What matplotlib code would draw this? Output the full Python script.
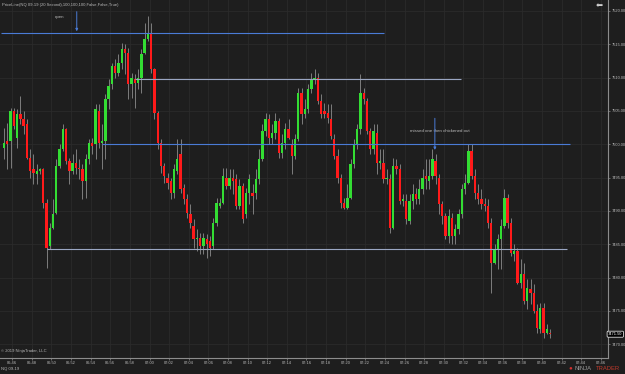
import matplotlib
matplotlib.use('Agg')
from matplotlib import pyplot as plt
import numpy as np

# NQ 09-19, 20 second bars, first bar closes at 06:45:10
start = '06:45:10'
opens = [7499.5, 7500.5, 7500.5, 7505.0, 7501.0, 7504.5, 7503.75, 7503.0, 7498.0, 7496.25,
         7495.5, 7496.0, 7496.25, 7491.25, 7484.75, 7487.5, 7489.75, 7496.75, 7499.25, 7502.25,
         7497.5, 7496.0, 7497.25, 7496.5, 7496.25, 7494.5, 7497.75, 7500.25, 7500.0, 7505.0,
         7500.25, 7500.5, 7506.75, 7509.0, 7511.75, 7510.75, 7512.25, 7514.25, 7513.75, 7509.0,
         7509.75, 7509.25, 7510.0, 7513.75, 7515.75, 7516.75, 7511.25, 7504.75, 7500.25, 7496.75,
         7495.0, 7494.5, 7492.75, 7496.0, 7498.5, 7493.5, 7491.75, 7489.5, 7487.75, 7485.75,
         7486.0, 7484.75, 7485.75, 7485.5, 7484.75, 7488.25, 7490.75, 7491.25, 7495.0, 7493.75,
         7495.0, 7494.75, 7490.75, 7493.75, 7489.5, 7492.75, 7492.75, 7492.75, 7494.75, 7497.75,
         7502.0, 7503.75, 7501.0, 7501.75, 7503.5, 7498.75, 7500.25, 7502.25, 7500.0, 7498.25,
         7500.75, 7507.75, 7504.5, 7505.25, 7508.25, 7509.75, 7510.0, 7506.5, 7505.0, 7504.75,
         7503.75, 7500.75, 7498.25, 7495.0, 7491.25, 7490.5, 7492.0, 7497.0, 7500.0, 7502.25,
         7507.75, 7506.5, 7502.0, 7499.25, 7501.75, 7497.25, 7497.25, 7494.75, 7494.75, 7487.5,
         7496.75, 7496.25, 7491.5, 7491.5, 7488.5, 7491.5, 7492.5, 7491.75, 7493.25, 7495.25,
         7494.5, 7495.25, 7497.5, 7495.0, 7491.0, 7489.25, 7486.25, 7489.0, 7486.25, 7487.25,
         7489.5, 7493.25, 7494.25, 7499.0, 7495.25, 7492.75, 7491.75, 7491.0, 7490.75, 7488.25,
         7482.25, 7484.25, 7485.75, 7487.75, 7492.0, 7488.25, 7483.5, 7484.0, 7479.25, 7480.5,
         7476.5, 7478.25, 7477.75, 7475.0, 7472.25, 7475.5, 7471.75, 7471.75]
highs = [7502.5, 7503.25, 7505.5, 7505.5, 7505.25, 7507.25, 7505.0, 7503.75, 7499.25, 7498.5,
         7497.0, 7496.5, 7496.5, 7491.75, 7488.25, 7491.75, 7497.75, 7500.0, 7503.0, 7502.5,
         7498.0, 7498.5, 7499.25, 7497.75, 7497.0, 7498.5, 7500.75, 7501.0, 7506.0, 7506.0,
         7503.0, 7507.5, 7509.75, 7512.25, 7512.75, 7513.5, 7515.25, 7515.0, 7514.5, 7510.75,
         7510.5, 7511.25, 7514.25, 7518.25, 7519.25, 7518.25, 7511.5, 7505.0, 7500.75, 7497.25,
         7495.75, 7495.0, 7497.0, 7500.75, 7500.75, 7494.0, 7492.5, 7491.0, 7488.75, 7487.25,
         7486.75, 7486.75, 7486.5, 7486.25, 7489.0, 7492.0, 7492.0, 7496.5, 7496.5, 7496.25,
         7496.25, 7495.5, 7494.75, 7494.25, 7493.5, 7495.5, 7494.0, 7496.25, 7499.25, 7503.0,
         7504.75, 7504.5, 7503.0, 7504.75, 7504.0, 7501.5, 7503.25, 7503.75, 7500.75, 7501.5,
         7508.5, 7508.5, 7506.75, 7509.0, 7510.75, 7511.25, 7510.75, 7507.5, 7506.25, 7506.0,
         7506.0, 7501.5, 7499.25, 7495.5, 7492.0, 7494.0, 7497.75, 7500.75, 7503.0, 7510.5,
         7508.5, 7507.0, 7502.5, 7503.0, 7503.0, 7499.25, 7499.25, 7496.25, 7495.5, 7498.0,
         7497.75, 7497.0, 7492.5, 7492.5, 7492.5, 7494.0, 7493.5, 7494.75, 7496.25, 7497.75,
         7497.75, 7499.25, 7498.5, 7495.5, 7491.5, 7489.75, 7490.25, 7489.75, 7488.0, 7490.25,
         7494.0, 7495.5, 7500.0, 7500.0, 7496.25, 7494.0, 7493.25, 7492.0, 7491.75, 7489.0,
         7485.0, 7486.5, 7488.75, 7493.25, 7492.5, 7489.0, 7485.0, 7484.5, 7482.75, 7482.25,
         7479.75, 7479.75, 7479.0, 7476.0, 7476.25, 7476.25, 7473.0, 7472.25]
lows = [7497.75, 7496.25, 7496.5, 7502.25, 7499.5, 7503.0, 7501.5, 7497.75, 7495.0, 7494.0,
        7494.0, 7495.5, 7490.5, 7481.5, 7484.25, 7487.25, 7489.5, 7496.5, 7499.0, 7497.0,
        7494.0, 7495.5, 7495.5, 7494.75, 7491.75, 7492.0, 7497.0, 7498.5, 7497.75, 7499.5,
        7496.25, 7497.75, 7505.25, 7508.25, 7510.0, 7510.25, 7511.25, 7510.5, 7506.75, 7507.0,
        7505.5, 7508.25, 7507.75, 7513.5, 7515.5, 7510.75, 7503.75, 7499.25, 7495.75, 7494.25,
        7493.25, 7491.75, 7492.0, 7495.5, 7492.75, 7491.0, 7489.0, 7487.5, 7484.5, 7484.0,
        7483.5, 7483.5, 7483.0, 7483.25, 7484.25, 7487.75, 7490.5, 7491.0, 7493.25, 7493.25,
        7492.5, 7490.25, 7490.25, 7488.25, 7489.0, 7491.0, 7489.5, 7491.75, 7494.0, 7497.5,
        7501.25, 7500.0, 7500.0, 7500.75, 7498.0, 7498.0, 7499.25, 7500.75, 7495.5, 7497.75,
        7500.5, 7503.0, 7504.0, 7504.75, 7507.75, 7509.0, 7506.0, 7504.0, 7504.0, 7503.25,
        7500.75, 7497.75, 7494.25, 7490.5, 7490.25, 7490.25, 7491.75, 7496.5, 7499.25, 7501.5,
        7506.0, 7501.5, 7498.5, 7498.5, 7495.5, 7496.25, 7494.25, 7494.0, 7486.75, 7487.25,
        7495.5, 7491.0, 7490.75, 7488.0, 7488.0, 7490.25, 7491.0, 7491.0, 7492.5, 7493.25,
        7493.25, 7494.75, 7494.0, 7489.5, 7488.0, 7485.75, 7485.25, 7485.0, 7485.0, 7486.5,
        7489.0, 7492.5, 7494.0, 7494.75, 7491.75, 7491.0, 7490.25, 7490.0, 7487.5, 7477.75,
        7482.0, 7481.25, 7481.25, 7487.5, 7487.5, 7483.25, 7482.5, 7479.0, 7478.5, 7476.0,
        7475.25, 7476.0, 7474.75, 7471.75, 7471.75, 7471.0, 7471.5, 7471.0]
closes = [7500.25, 7500.0, 7505.0, 7502.75, 7504.5, 7503.75, 7502.75, 7498.0, 7496.0, 7495.75,
          7496.0, 7496.25, 7491.25, 7484.5, 7487.5, 7489.5, 7496.75, 7499.25, 7502.25, 7497.5,
          7496.0, 7497.25, 7496.5, 7496.25, 7494.5, 7497.75, 7500.25, 7499.75, 7505.25, 7500.25,
          7500.5, 7506.75, 7508.75, 7511.75, 7510.75, 7512.25, 7514.25, 7513.75, 7509.0, 7510.0,
          7509.25, 7510.0, 7513.5, 7515.75, 7516.75, 7511.25, 7504.75, 7500.25, 7496.75, 7495.25,
          7494.25, 7492.75, 7496.25, 7497.75, 7493.25, 7491.75, 7489.75, 7488.25, 7485.75, 7486.0,
          7484.75, 7486.0, 7485.0, 7484.5, 7488.25, 7491.25, 7491.25, 7495.25, 7493.75, 7495.0,
          7494.5, 7490.75, 7493.75, 7488.75, 7492.75, 7494.75, 7492.25, 7494.75, 7497.75, 7502.0,
          7503.75, 7501.0, 7501.75, 7503.5, 7498.75, 7500.25, 7502.25, 7501.0, 7498.25, 7500.75,
          7507.75, 7504.5, 7505.25, 7508.25, 7509.75, 7510.0, 7506.5, 7504.5, 7504.5, 7504.0,
          7501.25, 7498.25, 7495.0, 7491.25, 7490.5, 7492.0, 7497.0, 7500.0, 7502.25, 7507.75,
          7506.75, 7502.0, 7499.25, 7502.0, 7497.25, 7497.5, 7494.75, 7495.0, 7487.5, 7496.75,
          7496.25, 7491.5, 7491.75, 7488.75, 7491.5, 7492.5, 7491.75, 7493.25, 7495.0, 7494.75,
          7495.25, 7497.75, 7495.25, 7491.0, 7489.25, 7486.25, 7489.25, 7486.25, 7487.25, 7489.5,
          7493.25, 7494.25, 7499.0, 7495.25, 7492.75, 7491.75, 7491.0, 7490.75, 7488.25, 7482.25,
          7484.25, 7485.75, 7487.75, 7492.0, 7488.25, 7483.75, 7484.0, 7479.25, 7480.5, 7476.5,
          7478.5, 7477.75, 7475.0, 7472.5, 7475.5, 7471.75, 7472.25, 7471.5]

price_ticks = [7520, 7515, 7510, 7505, 7500, 7495, 7490, 7485, 7480, 7475, 7470]
time_ticks = ['06:46', '06:48', '06:50', '06:52', '06:54', '06:56', '06:58', '07:00',
              '07:02', '07:04', '07:06', '07:08', '07:10', '07:12', '07:14', '07:16',
              '07:18', '07:20', '07:22', '07:24', '07:26', '07:28', '07:30', '07:32',
              '07:34', '07:36', '07:38', '07:40', '07:42', '07:44', '07:46']

# drawn levels: price, from, to
level_price = [7516.75, 7509.75, 7500.00, 7484.25]
level_from = ['06:44:50', '06:58:30', '06:55:10', '06:49:35']
level_to = ['07:23:55', '07:31:45', '07:42:50', '07:42:35']
level_color = ['#4a7bd6', '#9aa6c2', '#4a7bd6', '#9aa6c2']

notes = ['open', 'missed one then chickened out']
note_time = ['06:52:35', '07:29:05']
note_from = [7519.9, 7503.9]
note_to = [7516.95, 7499.15]

BG = '#1e1e1e'
TXT = '#b9b9b9'


def secs(t):
    p = [int(v) for v in t.split(':')]
    return p[0] * 3600 + p[1] * 60 + (p[2] if len(p) > 2 else 0)


def to_bar(t):
    return (secs(t) - secs(start)) / 20.0


def draw_candles(ax):
    o, h, l, c = map(np.array, (opens, highs, lows, closes))
    x = np.arange(len(o))
    ax.vlines(x, l, h, color='#8c8c8c', lw=0.6, zorder=2)
    up = c >= o
    bottom = np.minimum(o, c)
    height = np.maximum(np.abs(c - o), 0.15)
    ax.bar(x[up], height[up], bottom=bottom[up], width=0.72, color='#33dd33', lw=0, zorder=3)
    ax.bar(x[~up], height[~up], bottom=bottom[~up], width=0.72, color='#ff1a1a', lw=0, zorder=3)


def main():
    plt.rcParams['font.family'] = ['Liberation Sans', 'DejaVu Sans']
    fig = plt.figure(figsize=(6.25, 3.74), dpi=100, facecolor=BG)
    ax = fig.add_axes([0, 0.0441, 0.9723, 0.9559])
    ax.set_facecolor(BG)

    draw_candles(ax)

    for p, a, b, col in zip(level_price, level_from, level_to, level_color):
        ax.hlines(p, to_bar(a), to_bar(b), color=col, lw=0.8, zorder=4)

    for txt, t, y0, y1 in zip(notes, note_time, note_from, note_to):
        xb = to_bar(t)
        ax.annotate('', xy=(xb, y1), xytext=(xb, y0),
                    arrowprops=dict(arrowstyle='-|>', color='#4a7bd6', lw=0.7,
                                    mutation_scale=3.5, shrinkA=0, shrinkB=0), zorder=5)
    ax.text(to_bar('06:50:50'), 7519.1, notes[0], color=TXT, fontsize=3.2, ha='center', va='center')
    ax.text(to_bar('07:26:30'), 7502.0, notes[1], color=TXT, fontsize=3.2, ha='left', va='center')

    ax.set_xlim(-1.22, 184.6)
    ax.set_ylim(7468.0, 7521.65)

    ax.set_xticks([to_bar(t) for t in time_ticks])
    ax.set_xticklabels(time_ticks)
    ax.yaxis.tick_right()
    ax.set_yticks(price_ticks)
    ax.set_yticklabels(['%.2f' % p for p in price_ticks])
    ax.tick_params(colors='#8c8c8c', labelcolor=TXT, labelsize=2.9, length=1.5, width=0.5, pad=1.2)
    ax.grid(color='#2b2b2b', lw=0.6)
    ax.set_axisbelow(True)
    for s in ['top', 'left']:
        ax.spines[s].set_visible(False)
    for s in ['right', 'bottom']:
        ax.spines[s].set_color('#8c8c8c')
        ax.spines[s].set_linewidth(0.8)

    # last price marker on the scale
    ax.annotate('%.2f' % closes[-1], xy=(1.0, closes[-1]), xycoords=('axes fraction', 'data'),
                xytext=(0.3, 0), textcoords='offset points', color='white', fontsize=2.9,
                ha='left', va='center', annotation_clip=False,
                bbox=dict(boxstyle='round,pad=0.25', fc='black', ec='white', lw=0.5))

    ax.text(0.003, 0.992, 'PriceLine(NQ 09-19 (20 Second),100,100,100,False,False,True)',
            transform=ax.transAxes, color=TXT, fontsize=3, va='top')
    ax.text(0.002, 0.012, '\u00a9 2019 NinjaTrader, LLC', transform=ax.transAxes,
            color=TXT, fontsize=3, va='bottom')
    fig.text(0.002, 0.008, 'NQ 09-19', color=TXT, fontsize=3, va='bottom')
    fig.text(0.959, 0.982, '\u2b05', color='#d0d0d0', fontsize=6, ha='center', va='center')
    fig.text(0.912, 0.017, '\u25cf', color='#d32f2f', fontsize=4.5, ha='center', va='center')
    fig.text(0.919, 0.008, 'NINJA', color='#9a9a9a', fontsize=4.2, va='bottom')
    fig.text(0.953, 0.008, 'TRADER', color='#c0392b', fontsize=4.2, va='bottom')

    fig.savefig('out.png', dpi=100, facecolor=BG)


if __name__ == '__main__':
    main()
